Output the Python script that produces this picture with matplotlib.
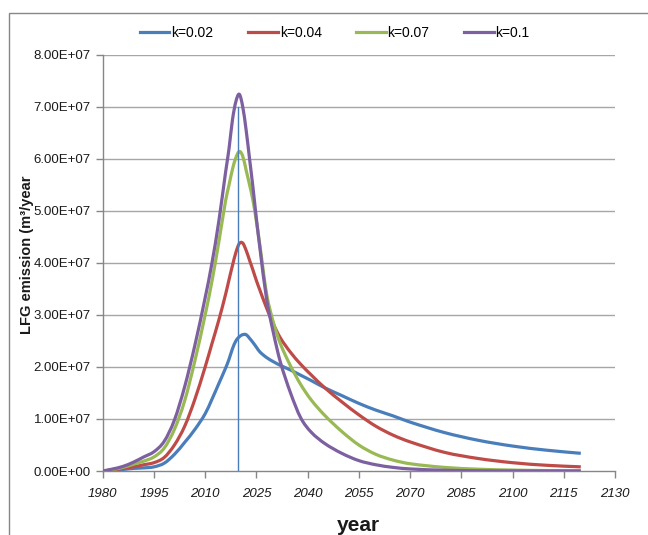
import numpy as np
import matplotlib
matplotlib.use("Agg")
from matplotlib import pyplot as plt
from matplotlib.ticker import FuncFormatter
from matplotlib.patches import Rectangle, PathPatch
from matplotlib.path import Path
from matplotlib.lines import Line2D

plt.rcParams['font.family'] = ['Liberation Sans', 'DejaVu Sans']

# data (values in 1e7 m3/year)
years = [1980, 1983, 1986, 1989, 1992, 1995, 1998, 2001, 2004, 2007, 2010, 2012, 2014,
         2016, 2017, 2018, 2019, 2020, 2021, 2022, 2023, 2024, 2025, 2026, 2028, 2030,
         2032, 2035, 2038, 2041, 2045, 2050, 2055, 2060, 2065, 2070, 2080, 2090, 2100,
         2110, 2120]

k002 = [0.0, 0.01, 0.03, 0.05, 0.06, 0.08, 0.15, 0.32, 0.55, 0.80, 1.10, 1.38, 1.68,
        1.98, 2.15, 2.35, 2.50, 2.58, 2.62, 2.62, 2.55, 2.47, 2.38, 2.29, 2.18, 2.10,
        2.03, 1.94, 1.84, 1.74, 1.60, 1.45, 1.30, 1.17, 1.06, 0.94, 0.74, 0.59, 0.48,
        0.40, 0.34]

k004 = [0.0, 0.02, 0.05, 0.08, 0.12, 0.16, 0.26, 0.50, 0.86, 1.38, 2.00, 2.45, 2.90,
        3.40, 3.68, 3.95, 4.20, 4.37, 4.38, 4.24, 4.05, 3.86, 3.66, 3.48, 3.13, 2.82,
        2.56, 2.28, 2.05, 1.85, 1.60, 1.33, 1.08, 0.86, 0.69, 0.56, 0.36, 0.24, 0.16,
        0.11, 0.08]

k007 = [0.0, 0.03, 0.07, 0.13, 0.19, 0.27, 0.44, 0.80, 1.35, 2.12, 3.00, 3.65, 4.40,
        5.20, 5.50, 5.80, 6.02, 6.14, 6.05, 5.78, 5.50, 5.20, 4.80, 4.35, 3.40, 2.85,
        2.45, 2.02, 1.66, 1.37, 1.07, 0.76, 0.50, 0.32, 0.21, 0.14, 0.07, 0.035, 0.018,
        0.009, 0.005]

k01 = [0.0, 0.04, 0.09, 0.17, 0.27, 0.37, 0.57, 0.98, 1.62, 2.42, 3.33, 4.00, 4.80,
       5.75, 6.20, 6.75, 7.10, 7.24, 7.00, 6.55, 6.00, 5.45, 4.85, 4.30, 3.30, 2.65,
       2.10, 1.50, 1.02, 0.75, 0.53, 0.34, 0.20, 0.12, 0.07, 0.04, 0.015, 0.005, 0.002,
       0.0007, 0.0003]

labels = ['k=0.02', 'k=0.04', 'k=0.07', 'k=0.1']
colors = ['#4a7ebb', '#be4b48', '#98b954', '#7d60a0']
closure_year = 2019.5
closure_top = 7.0


def smooth_line_path(x, y):
    # cubic Hermite curve through the points, like a spreadsheet "smoothed line"
    x = np.asarray(x, float)
    y = np.asarray(y, float)
    n = len(x)
    m = np.zeros(n)
    m[0] = (y[1] - y[0]) / (x[1] - x[0])
    m[-1] = (y[-1] - y[-2]) / (x[-1] - x[-2])
    for i in range(1, n - 1):
        m[i] = (y[i + 1] - y[i - 1]) / (x[i + 1] - x[i - 1])
    verts = [(x[0], y[0])]
    codes = [Path.MOVETO]
    for i in range(n - 1):
        dx = x[i + 1] - x[i]
        verts += [(x[i] + dx / 3, y[i] + m[i] * dx / 3),
                  (x[i + 1] - dx / 3, y[i + 1] - m[i + 1] * dx / 3),
                  (x[i + 1], y[i + 1])]
        codes += [Path.CURVE4] * 3
    return Path(verts, codes)


fig = plt.figure(figsize=(6.48, 5.35), dpi=100)
ax = fig.add_axes([0.1585, 0.1196, 0.949 - 0.1585, 0.8978 - 0.1196])

grid_c = '#a6a6a6'
for yv in range(1, 9):
    ax.axhline(yv * 1e7, color=grid_c, lw=1.0, zorder=1)

handles = []
for vals, lab, c in zip([k002, k004, k007, k01], labels, colors):
    path = smooth_line_path(years, np.array(vals) * 1e7)
    ax.add_patch(PathPatch(path, fill=False, edgecolor=c, lw=2.3, joinstyle='round',
                           capstyle='butt', zorder=3))
    handles.append(Line2D([], [], color=c, lw=2.3, label=lab))

ax.plot([closure_year, closure_year], [0, closure_top * 1e7], color='#4a7ebb', lw=1.0, zorder=4)

ax.set_xlim(1980, 2130)
ax.set_ylim(0, 8e7)
ax.set_xticks(range(1980, 2131, 15))
ax.set_yticks(np.arange(0, 8.01e7, 1e7))
ax.yaxis.set_major_formatter(FuncFormatter(lambda v, p: f'{v:.2E}'))

for s in ['top', 'right']:
    ax.spines[s].set_visible(False)
for s in ['left', 'bottom']:
    ax.spines[s].set_color('#868686')
    ax.spines[s].set_linewidth(1.0)

ax.tick_params(axis='both', direction='out', length=5, width=1, color='#868686',
               labelsize=9.5, labelcolor='#1a1a1a')
ax.tick_params(axis='x', pad=7)
for t in ax.get_xticklabels():
    t.set_fontstyle('italic')

fig.text(27 / 648, 1 - 255 / 535, 'LFG emission (m³/year', rotation=90, ha='center',
         va='center', fontsize=10.5, fontweight='bold', color='#1a1a1a')
fig.text(358 / 648, 1 - 531 / 535, 'year', ha='center', va='baseline', fontsize=15,
         fontweight='bold', color='#1a1a1a')

ax.legend(handles=handles, loc='center', bbox_to_anchor=(335 / 648, 1 - 33 / 535),
          bbox_transform=fig.transFigure, ncol=4, frameon=False, fontsize=10,
          handlelength=2.1, handletextpad=0.15, columnspacing=2.5)

fig.patches.append(Rectangle((9 / 648, -0.1), 1.2, 1 - 13 / 535 + 0.1, fill=False,
                             edgecolor='#878787', lw=1.0, transform=fig.transFigure,
                             figure=fig))

fig.savefig('out.png', dpi=100)
